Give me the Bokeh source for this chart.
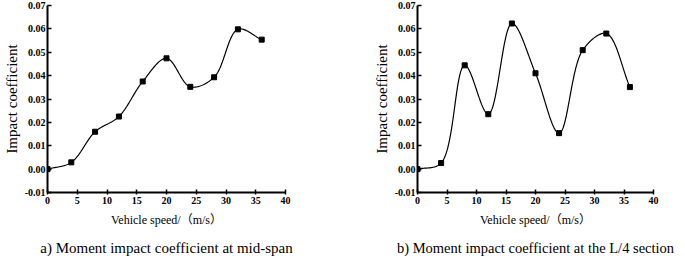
import numpy as np
from bokeh.plotting import figure
from bokeh.layouts import row
from bokeh.models import Range1d, Title, FixedTicker, PrintfTickFormatter
from bokeh.embed import file_html
from bokeh.resources import INLINE

speed = [0, 4, 8, 12, 16, 20, 24, 28, 32, 36]
mid_span = [0.0, 0.0029, 0.0160, 0.0225, 0.0375, 0.0474, 0.0352, 0.0393, 0.0598, 0.0554]
quarter = [0.0, 0.0026, 0.0444, 0.0235, 0.0623, 0.0410, 0.0154, 0.0509, 0.0580, 0.0351]
x_ticks = [0, 5, 10, 15, 20, 25, 30, 35, 40]
y_ticks = [-0.01, 0.0, 0.01, 0.02, 0.03, 0.04, 0.05, 0.06, 0.07]
captions = ["a) Moment impact coefficient at mid-span",
            "b) Moment impact coefficient at the L/4 section"]
x_label = "Vehicle speed/（m/s）"
y_label = "Impact coefficient"

X_RANGE = (0, 40)
Y_RANGE = (-0.01, 0.07)
FRAME_H = 187


def smooth_curve(x, y, frame_w, frame_h, n=40):
    """Centripetal Catmull-Rom spline through the data, computed in
    pixel-proportional space so the curve looks like a smooth connect line."""
    sx = frame_w / (X_RANGE[1] - X_RANGE[0])
    sy = frame_h / (Y_RANGE[1] - Y_RANGE[0])
    P = np.column_stack([np.asarray(x, float) * sx, np.asarray(y, float) * sy])
    P = np.vstack([2 * P[0] - P[1], P, 2 * P[-1] - P[-2]])
    out = []
    for i in range(1, len(P) - 2):
        p0, p1, p2, p3 = P[i - 1], P[i], P[i + 1], P[i + 2]
        t0 = 0.0
        t1 = t0 + np.linalg.norm(p1 - p0) ** 0.5
        t2 = t1 + np.linalg.norm(p2 - p1) ** 0.5
        t3 = t2 + np.linalg.norm(p3 - p2) ** 0.5
        t = np.linspace(t1, t2, n)[:, None]
        a1 = (t1 - t) / (t1 - t0) * p0 + (t - t0) / (t1 - t0) * p1
        a2 = (t2 - t) / (t2 - t1) * p1 + (t - t1) / (t2 - t1) * p2
        a3 = (t3 - t) / (t3 - t2) * p2 + (t - t2) / (t3 - t2) * p3
        b1 = (t2 - t) / (t2 - t0) * a1 + (t - t0) / (t2 - t0) * a2
        b2 = (t3 - t) / (t3 - t1) * a2 + (t - t1) / (t3 - t1) * a3
        c = (t2 - t) / (t2 - t1) * b1 + (t - t1) / (t2 - t1) * b2
        out.append(c if i == 1 else c[1:])
    C = np.vstack(out)
    return C[:, 0] / sx, C[:, 1] / sy


def make(values, caption, frame_w, left, right, cap_offset, cap_size):
    p = figure(frame_width=frame_w, frame_height=FRAME_H, output_backend="svg",
               toolbar_location=None,
               x_range=Range1d(*X_RANGE), y_range=Range1d(*Y_RANGE),
               min_border_left=left, min_border_right=right,
               min_border_top=5, min_border_bottom=0)
    p.outline_line_color = None
    p.grid.visible = False
    p.background_fill_color = "white"
    p.border_fill_color = "white"

    xs, ys = smooth_curve(speed, values, frame_w, FRAME_H)
    p.line(xs, ys, line_color="black", line_width=1.2)
    p.scatter(speed, values, marker="square", size=5, fill_color="black", line_color="black")

    for ax in (p.xaxis[0], p.yaxis[0]):
        ax.axis_line_width = 2
        ax.axis_line_color = "black"
        ax.major_tick_line_width = 1.5
        ax.major_tick_line_color = "black"
        ax.minor_tick_line_color = None
        ax.major_label_text_font = "Liberation Serif"
        ax.major_label_text_font_style = "bold"
        ax.major_label_text_font_size = "10px"
        ax.major_label_text_color = "black"
        ax.axis_label_text_font = "'Liberation Serif', 'Noto Sans CJK SC'"
        ax.axis_label_text_font_style = "normal"
        ax.axis_label_text_color = "black"

    xa = p.xaxis[0]
    xa.ticker = FixedTicker(ticks=x_ticks)
    xa.major_tick_in = 3
    xa.major_tick_out = 2
    xa.major_label_standoff = 2
    xa.axis_label = x_label
    xa.axis_label_text_font_size = "12px"
    xa.axis_label_standoff = 6

    ya = p.yaxis[0]
    ya.ticker = FixedTicker(ticks=y_ticks)
    ya.formatter = PrintfTickFormatter(format="%.2f")
    ya.major_tick_in = 4
    ya.major_tick_out = 0
    ya.major_label_standoff = 2
    ya.axis_label = y_label
    ya.axis_label_text_font_size = "15px"
    ya.axis_label_standoff = 2

    p.add_layout(Title(text=caption, align="center", text_font="Liberation Serif",
                       text_font_size=cap_size, text_font_style="normal",
                       text_color="black", standoff=17, offset=cap_offset), "below")
    return p


p1 = make(mid_span, captions[0], 238, 41, 53, 0, "15px")
p2 = make(quarter, captions[1], 236, 79, 22, -8, "14.5px")
layout = row(p1, p2, spacing=0)

open("out.html", "w").write(file_html(layout, INLINE))
